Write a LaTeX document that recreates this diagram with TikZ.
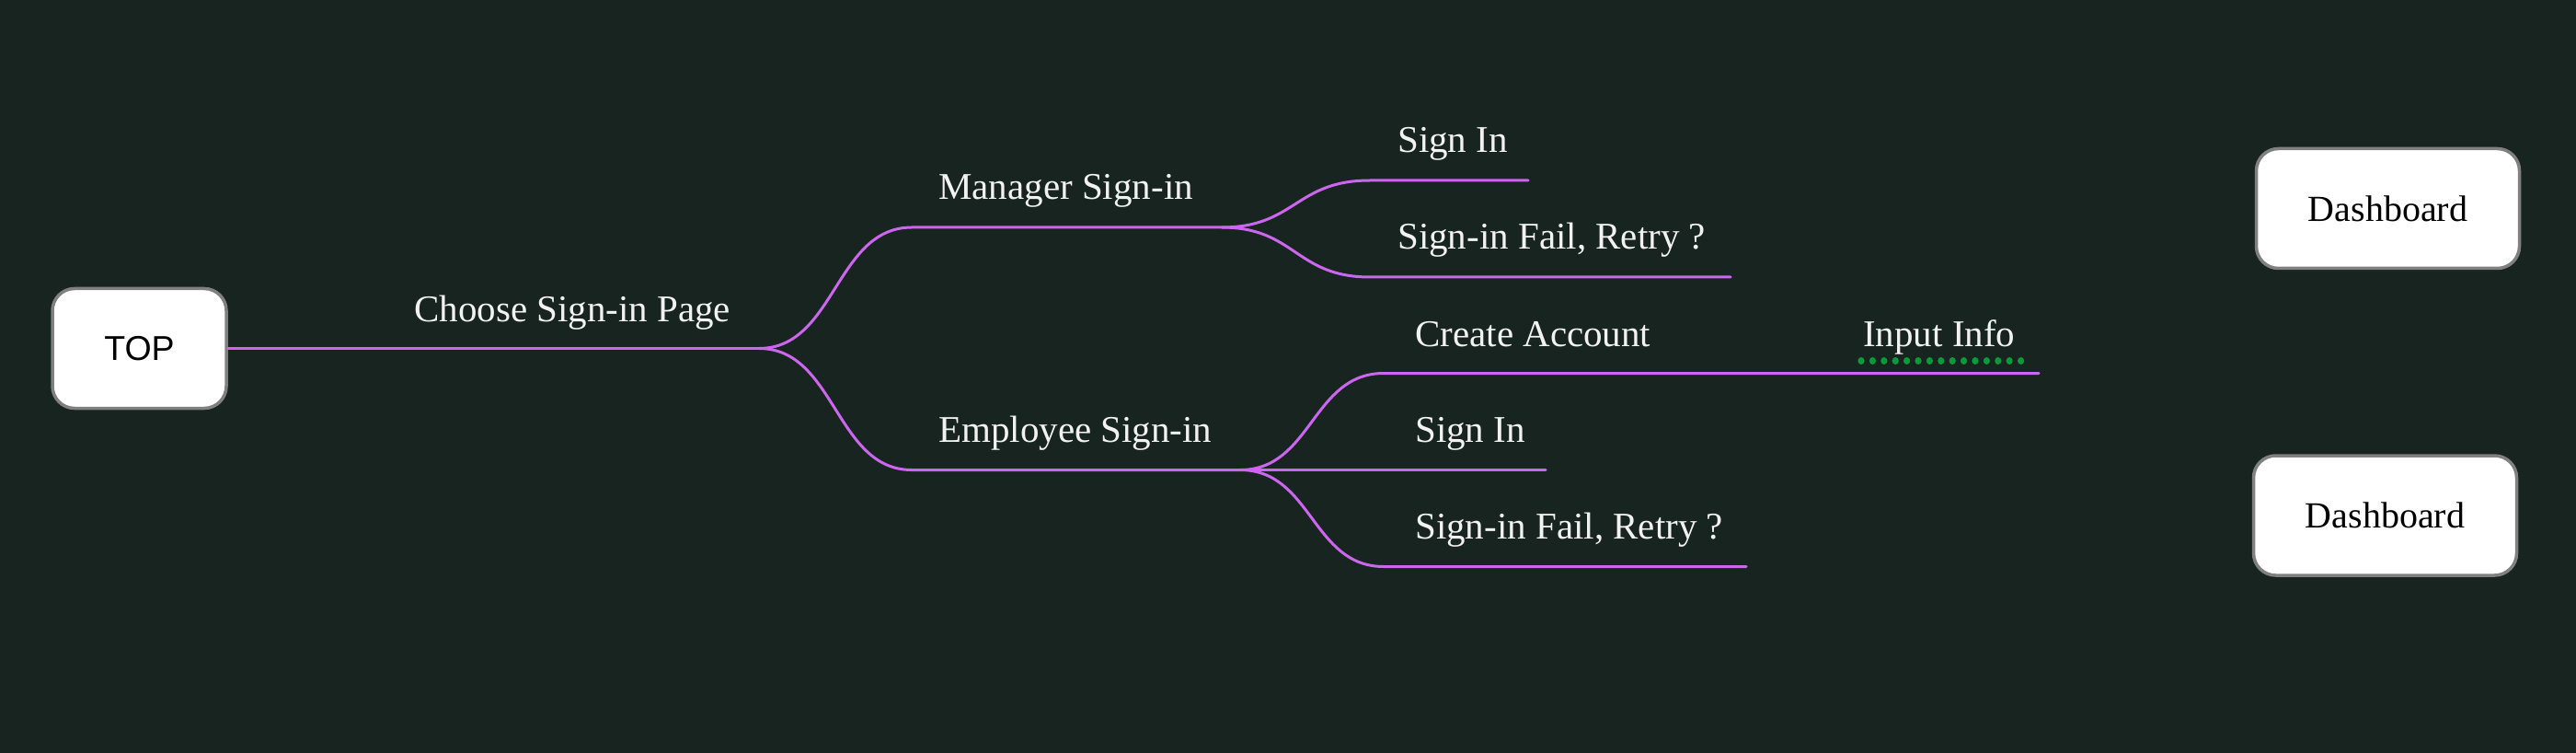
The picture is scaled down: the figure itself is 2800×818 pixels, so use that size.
\documentclass[tikz,border=0pt]{standalone}
\usepackage{fontspec}
\setmainfont{Liberation Serif}
\newfontfamily\boxsans{Liberation Sans}
\definecolor{bgc}{HTML}{18241F}
\definecolor{linkc}{HTML}{CC66EE}
\definecolor{txtc}{HTML}{F2F2F2}
\definecolor{dotc}{HTML}{0A9A3C}
\definecolor{boxedge}{HTML}{808080}
\tikzset{
  link/.style={draw=linkc, line width=3pt, line cap=round},
  lbl/.style={anchor=base west, inner sep=0pt, text=txtc, font=\fontsize{41}{49}\selectfont},
  card/.style={draw=boxedge, line width=3.5pt, fill=white, rounded corners=24pt, minimum height=130pt, inner sep=0pt},
}
\begin{document}
\begin{tikzpicture}[x=1pt,y=-1pt]
\fill[bgc] (0,0) rectangle (2800,818);
\useasboundingbox (0,0) rectangle (2800,818);

% boxes
\node[card, minimum width=189pt, font=\boxsans\fontsize{37.5}{44}\selectfont] (top) at (151.5,378.5) {TOP};
\node[card, minimum width=286pt, font=\fontsize{40}{48}\selectfont] (dash1) at (2595.5,226.5) {Dashboard};
\node[card, minimum width=286pt, font=\fontsize{40}{48}\selectfont] (dash2) at (2592.5,560) {Dashboard};

% branch points
\coordinate (rf) at (825,378.5);
\coordinate (ms) at (991,247);
\coordinate (mf) at (1328,247);
\coordinate (es) at (991,510.5);
\coordinate (ef) at (1348,510.5);
\coordinate (m1s) at (1489,196);
\coordinate (m1e) at (1661,196);
\coordinate (m2s) at (1489,301);
\coordinate (m2e) at (1881,301);
\coordinate (e1s) at (1504,405.5);
\coordinate (e1e) at (2216,405.5);
\coordinate (e2e) at (1680,510.5);
\coordinate (e3s) at (1504,615.5);
\coordinate (e3e) at (1898,615.5);

% labels
\node[lbl] (choose) at (450,349) {Choose Sign-in Page};
\node[lbl] (mgr) at (1020,216.5) {Manager Sign-in};
\node[lbl] (emp) at (1020,480.5) {Employee Sign-in};
\node[lbl] (msi) at (1519,165.5) {Sign In};
\node[lbl] (mrt) at (1519,270.5) {Sign-in Fail, Retry ?};
\node[lbl] (eca) at (1538,376) {Create Account};
\node[lbl] (esi) at (1538,480.5) {Sign In};
\node[lbl] (ert) at (1538,585) {Sign-in Fail, Retry ?};
\node[lbl] (inp) at (2025,376) {Input Info};

% connectors
\draw[link] (top.east) -- (rf);
\draw[link] (rf) .. controls (908,378.5) and (908,247) .. (ms) -- (mf);
\draw[link] (rf) .. controls (908,378.5) and (908,510.5) .. (es) -- (ef);
\draw[link] (mf) .. controls (1408,247) and (1408,196) .. (m1s) -- (m1e);
\draw[link] (mf) .. controls (1408,247) and (1408,301) .. (m2s) -- (m2e);
\draw[link] (ef) .. controls (1426,510.5) and (1426,405.5) .. (e1s) -- (e1e);
\draw[link] (ef) -- (e2e);
\draw[link] (ef) .. controls (1426,510.5) and (1426,615.5) .. (e3s) -- (e3e);

% dotted underline of Input Info
\foreach \i in {0,...,14} {
  \fill[dotc] (2023+12.4*\i,392) ellipse (3.6pt and 4pt);
}
\end{tikzpicture}
\end{document}
